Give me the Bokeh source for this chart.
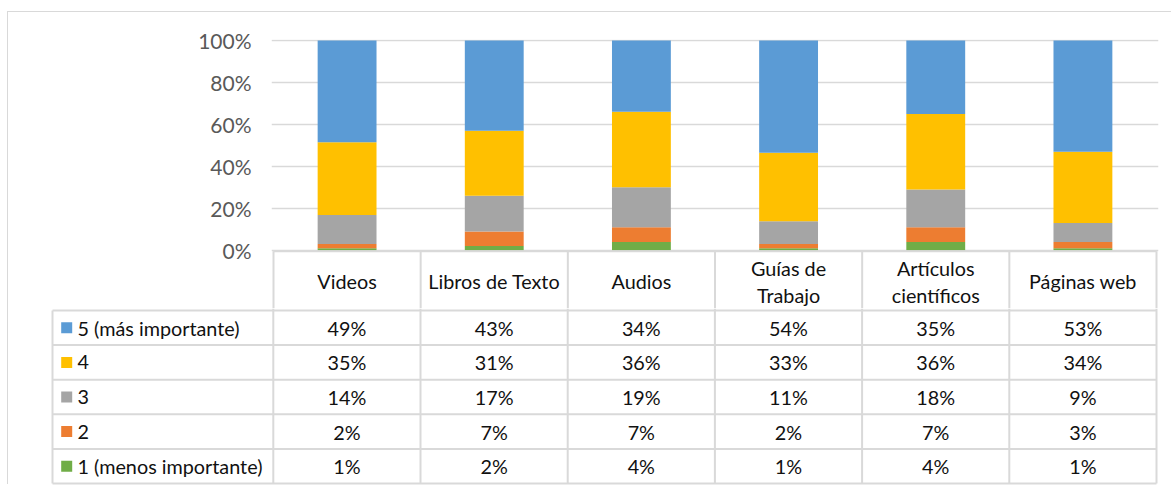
from bokeh.plotting import figure
from bokeh.models import ColumnDataSource, Range1d, FixedTicker, NumeralTickFormatter
from bokeh.layouts import column
from bokeh.embed import file_html
from bokeh.resources import INLINE
from bokeh.core.properties import value

# ---------------- data ----------------
categories = ["Videos", "Libros de Texto", "Audios", "Guías de Trabajo",
              "Artículos científicos", "Páginas web"]
header_labels = ["Videos", "Libros de Texto", "Audios", "Guías de\nTrabajo",
                 "Artículos\ncientíficos", "Páginas web"]
series_names = ["1 (menos importante)", "2", "3", "4", "5 (más importante)"]
series_colors = ["#70AD47", "#ED7D31", "#A5A5A5", "#FFC000", "#5B9BD5"]
s1 = [1, 2, 4, 1, 4, 1]
s2 = [2, 7, 7, 2, 7, 3]
s3 = [14, 17, 19, 11, 18, 9]
s4 = [35, 31, 36, 33, 36, 34]
s5 = [49, 43, 34, 54, 35, 53]
y_ticks = [0, 0.2, 0.4, 0.6, 0.8, 1.0]

FONT = "Lato"
GRID = "#D9D9D9"
TXT = "#111111"
TSIZE = "19.8px"

ncat = len(categories)
series = [s1, s2, s3, s4, s5]
nser = len(series)
keys = ["v1", "v2", "v3", "v4", "v5"]
totals = [sum(col) for col in zip(*series)]
data = {"cat": categories, "x": [i + 0.5 for i in range(ncat)]}
for k, s in zip(keys, series):
    data[k] = [v / t for v, t in zip(s, totals)]
src = ColumnDataSource(data)

cw = 147.2        # px per table column
unit_px = 209.0   # px for 0..100 %
hdr_px = 60.0     # header row height
rh = 34.6         # data row height
pad = 2.0

# ---------------- top: stacked 100% columns + table header ----------------
y_lo = -(hdr_px - pad) / unit_px
p1 = figure(x_range=Range1d(-pad / cw, ncat + pad / cw),
            y_range=Range1d(y_lo, 1 + 1 / unit_px),
            width=1164, height=296, output_backend="svg", toolbar_location=None,
            x_axis_location=None, min_border_left=263, min_border_right=14,
            min_border_top=27, min_border_bottom=0)
p1.frame_align = False
p1.vbar_stack(keys, x="x", width=0.4, fill_color=series_colors, line_color=None, source=src)
p1.outline_line_color = None
p1.xgrid.grid_line_color = None
p1.ygrid.grid_line_color = GRID
p1.ygrid.grid_line_width = 1.5
p1.yaxis.ticker = FixedTicker(ticks=y_ticks)
p1.yaxis.formatter = NumeralTickFormatter(format="0%")
p1.yaxis.axis_line_color = None
p1.yaxis.major_tick_line_color = None
p1.yaxis.minor_tick_line_color = None
p1.yaxis.major_tick_out = 0
p1.yaxis.major_tick_in = 0
p1.yaxis.major_label_standoff = 20
p1.yaxis.major_label_text_font = FONT
p1.yaxis.major_label_text_font_size = "21px"
p1.yaxis.major_label_text_color = "#595959"

# header row of the data table
p1.segment(x0=[0], y0=[-1 / unit_px], x1=[ncat], y1=[-1 / unit_px], line_color=GRID, line_width=2)
p1.segment(x0=list(range(ncat + 1)), y0=[-1 / unit_px] * (ncat + 1),
           x1=list(range(ncat + 1)), y1=[y_lo] * (ncat + 1), line_color=GRID, line_width=2)
p1.text(x=data["x"], y=[-(1 + hdr_px / 2) / unit_px] * ncat, text=header_labels,
        text_font=value(FONT), text_font_size=TSIZE, text_color=TXT,
        text_align="center", text_baseline="middle", text_line_height=1.14)

# ---------------- bottom: data rows of the table ----------------
p2 = figure(x_range=Range1d(-1.5 - pad / cw, ncat + pad / cw),
            y_range=Range1d(-pad / rh, nser + pad / rh),
            width=1164, height=177, output_backend="svg", toolbar_location=None,
            x_axis_location=None, y_axis_location=None,
            min_border_left=42, min_border_right=14, min_border_top=0, min_border_bottom=0)
p2.frame_align = False
p2.outline_line_color = None
p2.grid.grid_line_color = None

hx0, hx1, hy = [], [], []
for k in range(nser + 1):
    hx0.append(-1.5); hx1.append(ncat); hy.append(k)
p2.segment(x0=hx0, y0=hy, x1=hx1, y1=hy, line_color=GRID, line_width=2)
vx, vy0, vy1 = [-1.5], [0], [nser]
for i in range(ncat + 1):
    vx.append(i); vy0.append(0); vy1.append(nser + pad / rh)
p2.segment(x0=vx, y0=vy0, x1=vx, y1=vy1, line_color=GRID, line_width=2)

# row labels with legend keys
ry = [j + 0.5 for j in range(nser)]
p2.scatter(x=[-1.5 + 14.2 / cw] * nser, y=ry, marker="square", size=11,
           fill_color=series_colors, line_color=None)
p2.text(x=[-1.5 + 25 / cw] * nser, y=ry, text=series_names,
        text_font=value(FONT), text_font_size=TSIZE, text_color=TXT,
        text_align="left", text_baseline="middle")

# values
tx, ty, tt = [], [], []
for j, s in enumerate(series):
    for i, v in enumerate(s):
        tx.append(i + 0.5); ty.append(j + 0.5); tt.append(f"{v}%")
p2.text(x=tx, y=ty, text=tt, text_font=value(FONT), text_font_size=TSIZE,
        text_color=TXT, text_align="center", text_baseline="middle")

layout = column(p1, p2, styles={"margin-left": "8px", "margin-top": "12px",
                                "box-shadow": "-1px -1px 0 0 #D9D9D9"})
open("out.html", "w").write(file_html(layout, INLINE))
